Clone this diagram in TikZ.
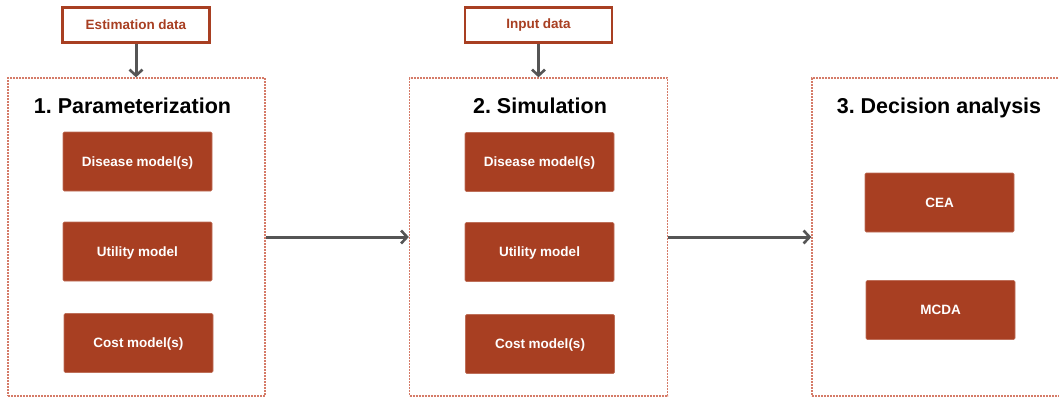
\documentclass[tikz,border=0pt]{standalone}
\usepackage{fontspec}
\setmainfont{Liberation Sans}
\usetikzlibrary{arrows.meta}
\definecolor{rust}{HTML}{A83F22}
\definecolor{dashc}{HTML}{D57B68}
\definecolor{arrowc}{HTML}{555555}
\frenchspacing
\begin{document}
\begin{tikzpicture}[x=1pt,y=-1pt,
  panel/.style={draw=dashc, line width=1.3pt, dash pattern=on 2pt off 1pt, inner sep=0pt},
  databox/.style={draw=rust, line width=2.2pt, fill=white, text=rust, minimum width=147pt, minimum height=35pt, inner sep=0pt, font=\bfseries\fontsize{13.5}{16}\selectfont},
  modelbox/.style={fill=rust, draw=rust!75!white, line width=0.6pt, rounded corners=1.2pt, text=white, minimum width=149pt, minimum height=59pt, inner sep=0pt, text depth=0pt, font=\bfseries\fontsize{13.5}{16}\selectfont},
  title/.style={anchor=base, text=black, inner sep=0pt, font=\bfseries\fontsize{21.5}{25}\selectfont},
  conn/.style={draw=arrowc, line width=3pt, -{Straight Barb[length=6pt,width=13pt,line width=2.6pt]}}
]
\useasboundingbox (0,0) rectangle (1059,397);
% panels
\node[panel, minimum width=257pt, minimum height=318pt] (p1) at (136.5,237) {};
\node[panel, minimum width=258pt, minimum height=318pt] (p2) at (538.5,237) {};
\node[panel, minimum width=258pt, minimum height=318pt] (p3) at (941,237) {};
% data boxes
\node[databox] (est) at (136,25) {Estimation data};
\node[databox] (inp) at (538.5,25) {Input data};
% titles
\node[title] (t1) at (132.5,113) {1. Parameterization};
\node[title] (t2) at (540,113) {2. Simulation};
\node[title] (t3) at (939,113) {3. Decision analysis};
% model boxes
\node[modelbox] (d1) at (137.5,161.5) {Disease model(s)};
\node[modelbox] (u1) at (137.5,251.5) {Utility model};
\node[modelbox] (c1) at (138.5,343) {Cost model(s)};
\node[modelbox] (d2) at (539.5,162) {Disease model(s)};
\node[modelbox] (u2) at (539.5,252) {Utility model};
\node[modelbox] (c2) at (540,344) {Cost model(s)};
\node[modelbox] (cea) at (939.5,202.5) {CEA};
\node[modelbox] (mcda) at (940.5,310) {MCDA};
% connectors
\draw[conn] (est.south) -- (est.south |- p1.north);
\draw[conn] (inp.south) -- (inp.south |- p2.north);
\draw[conn] (p1.east) -- (p2.west);
\draw[conn] (p2.east) -- (p3.west);
\end{tikzpicture}
\end{document}
